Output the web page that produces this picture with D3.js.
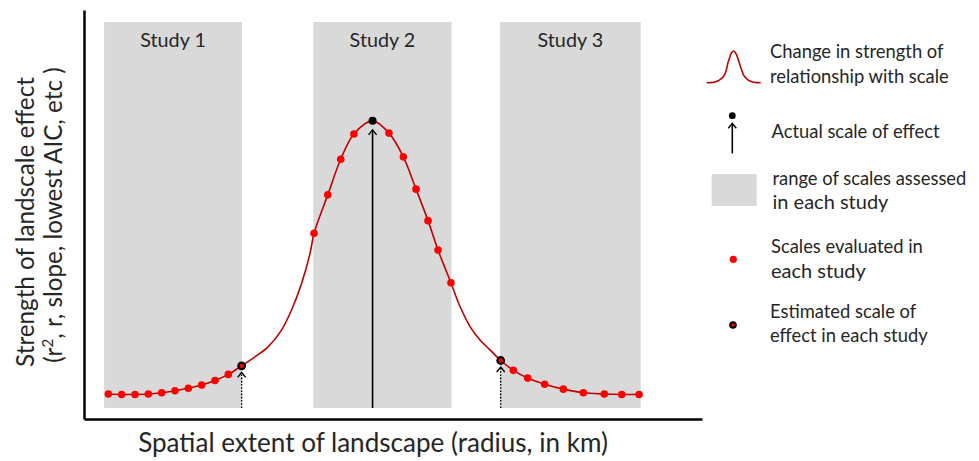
<!DOCTYPE html>
<html>
<head>
<meta charset="utf-8">
<script src="https://cdn.jsdelivr.net/npm/d3@7"></script>
<style>
  html, body { margin: 0; padding: 0; background: #fff; }
  svg { display: block; }
  text { font-family: Lato, "Open Sans", sans-serif; fill: #262626; }
</style>
</head>
<body>
<svg id="chart" width="979" height="461"></svg>
<script>
// ---------- data ----------
const studyNames = ["Study 1", "Study 2", "Study 3"];
const studyRangeStart = [-0.32, 15.37, 29.38];
const studyRangeEnd = [10.03, 25.75, 39.93];

const scalesStudy1 = [0, 1, 2, 3, 4, 5, 6, 7, 8, 9, 10];
const strengthStudy1 = [0.061, 0.060, 0.060, 0.061, 0.064, 0.069, 0.075, 0.083, 0.094, 0.109, 0.130];

const scalesStudy2 = [15.43, 16.46, 17.43, 18.42, 19.82, 21.05, 22.13, 23.08, 23.98, 24.73, 25.70];
const strengthStudy2 = [0.454, 0.548, 0.635, 0.697, 0.729, 0.699, 0.641, 0.562, 0.485, 0.413, 0.333];

const scalesStudy3 = [29.43, 30.38, 31.46, 32.73, 34.13, 35.63, 37.20, 38.51, 39.81];
const strengthStudy3 = [0.143, 0.119, 0.100, 0.085, 0.073, 0.064, 0.061, 0.060, 0.060];

// unsampled parts of the true curve (between the studies)
const gapScales = [11.0, 12.0, 13.0, 13.75, 14.5, 15.13, 26.38, 27.13, 27.88, 28.63];
const gapStrength = [0.152, 0.177, 0.218, 0.267, 0.332, 0.405, 0.275, 0.226, 0.193, 0.169];

const estimatedIndex = [10, 4, 0];   // index of the estimated scale within each study
const actualStudy = 1;               // study whose estimate is the actual scale

const legendLabels = [
  ["Change in strength of", "relationship with scale"],
  ["Actual scale of effect"],
  ["range of scales assessed", "in each study"],
  ["Scales evaluated in", "each study"],
  ["Estimated scale of", "effect in each study"]
];
const xTitle = "Spatial extent of landscape (radius, in km)";
const yTitle1 = "Strength of landscale effect";

// ---------- setup ----------
const svg = d3.select("#chart");
const x = d3.scaleLinear().domain([-1.825, 44.53]).range([84, 702]);
const y = d3.scaleLinear().domain([0, 1]).range([419, 10]);

const CURVE = "#c00000", DOT = "#ff0000", GREY = "#d9d9d9";

const studyScales = [scalesStudy1, scalesStudy2, scalesStudy3];
const studyStrength = [strengthStudy1, strengthStudy2, strengthStudy3];

const rectTop = 0.9707, rectBottom = 0.0269;

// study ranges
svg.append("g").selectAll("rect").data(studyNames).join("rect")
  .attr("x", (d, i) => x(studyRangeStart[i]))
  .attr("width", (d, i) => x(studyRangeEnd[i]) - x(studyRangeStart[i]))
  .attr("y", y(rectTop))
  .attr("height", y(rectBottom) - y(rectTop))
  .attr("fill", GREY);

const studyLabels = svg.append("g").selectAll("text").data(studyNames).join("text")
  .attr("x", (d, i) => (x(studyRangeStart[i]) + x(studyRangeEnd[i])) / 2)
  .attr("y", 47)
  .attr("text-anchor", "middle")
  .attr("font-size", 20)
  .text(d => d);

// axes (no ticks)
svg.append("g").attr("transform", `translate(0,${y(0)})`)
  .call(d3.axisBottom(x).tickValues([]).tickSizeOuter(0))
  .select(".domain").attr("stroke", "#000").attr("stroke-width", 2.5);
svg.append("g").attr("transform", `translate(${x.range()[0]},0)`)
  .call(d3.axisLeft(y).tickValues([]).tickSizeOuter(0))
  .select(".domain").attr("stroke", "#000").attr("stroke-width", 2.5);

// curve
const allPts = [];
studyScales.forEach((s, i) => s.forEach((v, j) => allPts.push([v, studyStrength[i][j]])));
gapScales.forEach((v, j) => allPts.push([v, gapStrength[j]]));
allPts.sort((a, b) => a[0] - b[0]);
const line = d3.line().x(d => x(d[0])).y(d => y(d[1])).curve(d3.curveCatmullRom.alpha(0.5));
svg.append("path").attr("d", line(allPts)).attr("fill", "none")
  .attr("stroke", CURVE).attr("stroke-width", 1.6);

// arrows
function chevron(g, cx, tipY) {
  g.append("path").attr("d", `M${cx - 4},${tipY + 5}L${cx},${tipY}L${cx + 4},${tipY + 5}`)
    .attr("fill", "none").attr("stroke", "#000").attr("stroke-width", 1.4);
}
const arrows = svg.append("g");
studyScales.forEach((s, i) => {
  const xv = s[estimatedIndex[i]], yv = studyStrength[i][estimatedIndex[i]];
  const actual = i === actualStudy;
  const tip = y(yv) + (actual ? 9 : 6.5);
  arrows.append("line").attr("x1", x(xv)).attr("x2", x(xv))
    .attr("y1", y(rectBottom)).attr("y2", tip + 0.5)
    .attr("stroke", "#000").attr("stroke-width", actual ? 1.6 : 1.4)
    .attr("stroke-dasharray", actual ? null : "1.6,1.6");
  chevron(arrows, x(xv), tip);
});

// points
studyScales.forEach((s, i) => {
  const g = svg.append("g");
  g.selectAll("circle").data(s.map((v, j) => [v, studyStrength[i][j], j])).join("circle")
    .filter(d => d[2] !== estimatedIndex[i])
    .attr("cx", d => x(d[0])).attr("cy", d => y(d[1])).attr("r", 3.8).attr("fill", DOT);
  const ev = s[estimatedIndex[i]], ey = studyStrength[i][estimatedIndex[i]];
  if (i === actualStudy) {
    g.append("circle").attr("cx", x(ev)).attr("cy", y(ey)).attr("r", 4).attr("fill", "#000");
  } else {
    g.append("circle").attr("cx", x(ev)).attr("cy", y(ey)).attr("r", 3.3)
      .attr("fill", DOT).attr("stroke", "#000").attr("stroke-width", 2.2);
  }
});

// axis titles
const xt = svg.append("text").attr("x", 373).attr("y", 452).attr("text-anchor", "middle")
  .attr("font-size", 24).text(xTitle);
const yt1 = svg.append("text").attr("transform", "translate(33.5,222) rotate(-90)")
  .attr("text-anchor", "middle").attr("font-size", 24).text(yTitle1);
const yt2 = svg.append("text").attr("transform", "translate(61.5,215) rotate(-90)")
  .attr("text-anchor", "middle").attr("font-size", 24);
yt2.append("tspan").text("(r");
yt2.append("tspan").attr("font-size", "0.62em").attr("baseline-shift", "super").text("2");
yt2.append("tspan").text(", r, slope, lowest AIC, etc )");

// legend
const legendX = [770, 771.5, 772.5, 771, 770];
const legendBaselines = [[58.3, 82.7], [138.3], [185, 208.6], [253.3, 277.7], [318.3, 341.7]];
const lg = svg.append("g");
const legendTexts = [];
legendLabels.forEach((lines, i) => {
  lines.forEach((t, k) => {
    legendTexts.push(lg.append("text").attr("x", legendX[i]).attr("y", legendBaselines[i][k])
      .attr("font-size", 20).text(t));
  });
});

// legend glyphs
const lx = d3.scaleLinear().domain([0, 39.81]).range([706.7, 760.7]);
const ly = d3.scaleLinear().domain([0.06, 0.729]).range([82.7, 51]);
const legLine = d3.line().x(d => lx(d[0])).y(d => ly(d[1])).curve(d3.curveCatmullRom.alpha(0.5));
lg.append("path").attr("d", legLine(allPts)).attr("fill", "none").attr("stroke", CURVE).attr("stroke-width", 1.6);
lg.append("line").attr("x1", 732.3).attr("x2", 732.3).attr("y1", 153.3).attr("y2", 123.8)
  .attr("stroke", "#000").attr("stroke-width", 1.6);
chevron(lg, 732.3, 123.3);
lg.append("circle").attr("cx", 732.3).attr("cy", 115.7).attr("r", 3.4).attr("fill", "#000");
lg.append("rect").attr("x", 711.7).attr("y", 174).attr("width", 45).attr("height", 32).attr("fill", GREY);
lg.append("circle").attr("cx", 733.3).attr("cy", 259.3).attr("r", 3.6).attr("fill", DOT);
lg.append("circle").attr("cx", 733).attr("cy", 325).attr("r", 2.8)
  .attr("fill", DOT).attr("stroke", "#000").attr("stroke-width", 2);

// ---------- fit font sizes to measured widths ----------
function fitGroup(items) {
  let target = 0, measured = 0;
  items.forEach(([sel, w]) => { target += w; measured += sel.node().getComputedTextLength(); });
  const k = target / measured;
  items.forEach(([sel]) => sel.attr("font-size", parseFloat(sel.attr("font-size")) * k));
}
const legendWidths = [173, 180.7, 166.7, 194, 0, 152, 0, 146.7, 157.3];
fitGroup(legendTexts.map((t, i) => [t, legendWidths[i]]).filter(d => d[1] > 0));
fitGroup([[studyLabels.filter((d, i) => i === 0), 66.7], [studyLabels.filter((d, i) => i === 1), 64.7]]);
studyLabels.filter((d, i) => i === 2).attr("font-size", studyLabels.filter((d, i) => i === 0).attr("font-size"));
fitGroup([[xt, 470]]);
fitGroup([[yt1, 290]]);
yt2.attr("font-size", yt1.attr("font-size"));
</script>
</body>
</html>
